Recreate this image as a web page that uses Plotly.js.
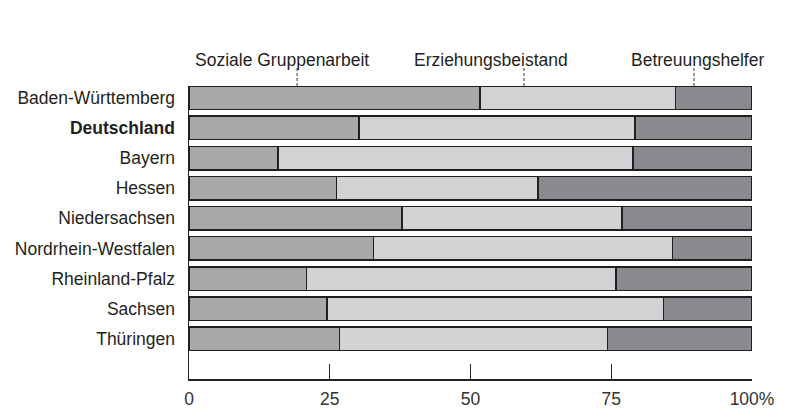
<!DOCTYPE html>
<html>
<head>
<meta charset="utf-8">
<script src="https://cdn.plot.ly/plotly-3.0.1.min.js"></script>
<style>html,body{margin:0;padding:0;background:#fff;}#chart{width:794px;height:417px;}</style>
</head>
<body>
<div id="chart"></div>
<script>
const categories = ["Baden-Württemberg","Deutschland","Bayern","Hessen","Niedersachsen","Nordrhein-Westfalen","Rheinland-Pfalz","Sachsen","Thüringen"];
const categoryLabels = ["Baden-Württemberg","<b>Deutschland</b>","Bayern","Hessen","Niedersachsen","Nordrhein-Westfalen","Rheinland-Pfalz","Sachsen","Thüringen"];
const seriesNames = ["Soziale Gruppenarbeit","Erziehungsbeistand","Betreuungshelfer"];
const sozialeGruppenarbeit = [51.7, 30.2, 15.8, 26.2, 37.8, 32.8, 20.9, 24.5, 26.7];
const erziehungsbeistand   = [34.7, 49.0, 63.1, 35.8, 39.1, 53.1, 54.9, 59.8, 47.6];
const betreuungshelfer     = [13.6, 20.8, 21.1, 38.0, 23.1, 14.1, 24.2, 15.7, 25.7];
const xTickVals = [0, 25, 50, 75, 100];
const xTickText = ["0", "25", "50", "75", "100%"];
// label placement (x in data units) for the series callouts
const calloutTextX = [16.6, 53.7, 90.3];
const calloutLineX = [19.2, 59.5, 89.7];

const FONT = "Arial";
const colors = ["#a7a8aa", "#d1d2d4", "#898a8d"];
const ink = "#231f20";
const values = [sozialeGruppenarbeit, erziehungsbeistand, betreuungshelfer];

const traces = values.map((v, i) => ({
  type: "bar",
  orientation: "h",
  name: seriesNames[i],
  x: v,
  y: categories,
  marker: {color: colors[i], line: {color: ink, width: 1.5}},
  hoverinfo: "none"
}));

const annotations = [];
const shapes = [];
seriesNames.forEach((n, i) => {
  annotations.push({
    text: n, xref: "x", yref: "paper", x: calloutTextX[i], y: 1.089,
    xanchor: "center", yanchor: "middle", showarrow: false,
    font: {family: FONT, size: 17.5, color: ink}
  });
  shapes.push({
    type: "line", xref: "x", yref: "paper",
    x0: calloutLineX[i], x1: calloutLineX[i], y0: 1.0, y1: 1.068,
    line: {color: "#555", width: 1.2, dash: "3px,2px"}
  });
});

const layout = {
  width: 794, height: 417,
  margin: {l: 189, r: 42, t: 86, b: 38},
  paper_bgcolor: "#fff", plot_bgcolor: "#fff",
  barmode: "stack",
  bargap: 0.22,
  showlegend: false,
  font: {family: FONT, size: 17.5, color: ink},
  xaxis: {
    range: [0, 100], tickvals: xTickVals, ticktext: xTickText,
    ticks: "inside", ticklen: 15, tickwidth: 1.3, tickcolor: ink,
    showline: true, linecolor: ink, linewidth: 1.5,
    showgrid: false, zeroline: false, ticklabelstandoff: 3,
    tickfont: {family: FONT, size: 17.5, color: "#333"}
  },
  yaxis: {
    type: "category", categoryorder: "array", categoryarray: categories,
    tickvals: categories, ticktext: categoryLabels,
    range: [9.33, -0.39],
    showline: true, linecolor: ink, linewidth: 1.5,
    showgrid: false, zeroline: false, ticks: "", ticklabelstandoff: 9,
    tickfont: {family: FONT, size: 17.5, color: ink}
  },
  annotations: annotations,
  shapes: shapes
};

Plotly.newPlot("chart", traces, layout, {displayModeBar: false, staticPlot: true});
</script>
</body>
</html>
